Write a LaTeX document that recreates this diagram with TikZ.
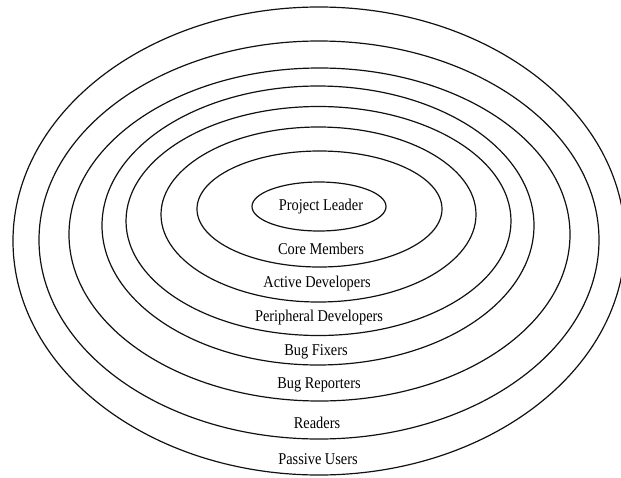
\documentclass[tikz,border=0pt]{standalone}
\usepackage{fontspec}
\setmainfont{Liberation Serif}
\definecolor{vblack}{HTML}{111111}
\tikzset{
	ring/.style={color=vblack, line width=1.2pt},
	ringlabel/.style={inner sep=0pt, font=\fontsize{16.5}{19}\selectfont, xscale=0.87}
}

\begin{document}
\begin{tikzpicture}[x=1pt, y=-1pt]
		\useasboundingbox (0,0) rectangle (621,477);
		\clip (0,0) rectangle (621,477);
		\draw[ring] (319,241) ellipse (306 and 234);
		\draw[ring] (319,240) ellipse (280 and 199);
		\draw[ring] (319.5,234.5) ellipse (250.5 and 166.5);
		\draw[ring] (318,225.5) ellipse (216 and 139.5);
		\draw[ring] (318.5,221) ellipse (192.5 and 114.5);
		\draw[ring] (318.5,214.5) ellipse (157.5 and 87.5);
		\draw[ring] (319.5,209) ellipse (122.5 and 58);
		\draw[ring] (319,206.5) ellipse (67 and 24.5);
		\node[ringlabel] (leader) at (321,207) {Project Leader};
		\node[ringlabel] (core) at (321,249) {Core Members};
		\node[ringlabel] (active) at (317,284) {Active Developers};
		\node[ringlabel] (peripheral) at (319,318) {Peripheral Developers};
		\node[ringlabel] (fixers) at (316,352) {Bug Fixers};
		\node[ringlabel] (reporters) at (319,385) {Bug Reporters};
		\node[ringlabel] (readers) at (317,423) {Readers};
		\node[ringlabel] (passive) at (318,459) {Passive Users};
	\end{tikzpicture}
\end{document}
